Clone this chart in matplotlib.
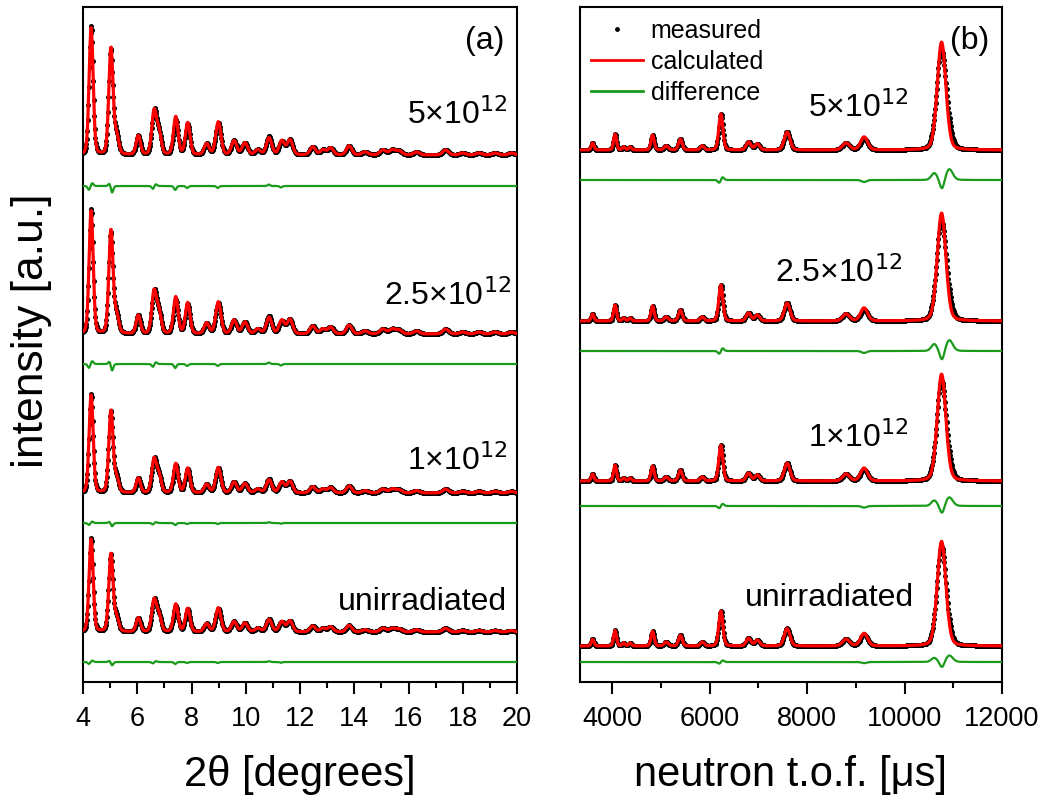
import numpy as np
import matplotlib
matplotlib.use("Agg")
import matplotlib.pyplot as plt
from matplotlib.lines import Line2D

plt.rcParams['font.family'] = ['Liberation Sans', 'DejaVu Sans']

# ---------------- data ----------------
samples = ["unirradiated", "1×10$^{12}$", "2.5×10$^{12}$", "5×10$^{12}$"]

# X-ray pattern (panel a): peak positions [deg], heights, widths
xrd_pos = [4.30, 5.03, 5.24, 6.04, 6.62, 6.80, 7.42, 7.86, 8.56, 8.99, 9.57, 9.97,
           10.45, 10.86, 11.33, 11.63, 12.47, 12.85, 13.13, 13.81, 14.40, 15.06,
           15.40, 15.65, 16.30, 17.37, 18.00, 18.60, 19.20, 19.80]
xrd_height = [127, 107, 18, 19, 43, 22, 38, 32, 11, 33, 14, 12,
              5, 17, 14, 15, 8, 5, 7, 9, 3, 5,
              5, 4, 3, 5, 2, 2, 2, 2]
xrd_sigma = [0.075, 0.078, 0.08, 0.08, 0.085, 0.085, 0.085, 0.085, 0.09, 0.095, 0.095, 0.1,
             0.1, 0.1, 0.1, 0.1, 0.1, 0.1, 0.1, 0.1, 0.11, 0.11,
             0.11, 0.11, 0.11, 0.11, 0.11, 0.11, 0.11, 0.11]
xrd_scale = [0.73, 0.77, 0.97, 1.0]          # unirr, 1e12, 2.5e12, 5e12
xrd_diff_pos = [4.22, 4.34, 4.98, 5.07, 6.58, 6.68, 7.40, 7.84, 8.97, 10.85, 11.30]
xrd_diff_amp = [-4, 3, 3, -7, -3, 2, -4, -2, -2, 1.5, -1.5]
xrd_diff_scale = [0.5, 0.5, 1.0, 1.0]

# neutron pattern (panel b): peak positions [µs], heights, widths
tof_pos = [3600, 4060, 4240, 4370, 4830, 5110, 5400, 5850, 6230, 6800, 6980,
           7590, 8800, 9170, 10760]
tof_height = [7, 16, 3, 3, 15, 4, 11, 4, 36, 8, 6, 18, 7, 13, 108]
tof_sigma = [28, 30, 28, 28, 33, 42, 38, 38, 42, 48, 48, 58, 72, 72, 88]
tof_scale = [0.97, 0.99, 1.0, 1.0]
tof_diff_pos = [6200, 6265, 9170, 10610, 10770, 10920]
tof_diff_amp = [-3, 3, -2, 7, -10, 11]
tof_diff_sigma = [30, 30, 50, 60, 45, 70]
tof_diff_scale = [0.6, 0.8, 1.0, 1.0]

# ---------------- layout constants (pixel-like units) ----------------
xrd_base = [50, 189, 348, 527]
xrd_diff_base = [20, 159, 318, 496]
tof_base = [36, 201, 361, 532]
tof_diff_base = [20, 176, 331, 502]


def peaks(x, pos, height, sigma):
    y = np.zeros(len(x), dtype=float)
    for p, h, s in zip(pos, height, sigma):
        g = np.exp(-0.5 * ((x - p) / s) ** 2)
        lor = 1.0 / (1.0 + ((x - p) / (1.2 * s)) ** 2)
        y += h * (0.8 * g + 0.2 * lor)
    return y


fig = plt.figure(figsize=(10.53, 8.02), dpi=100)
W, H = 1053, 802
ax1 = fig.add_axes([83 / W, 120 / H, 434 / W, 675 / H])
ax2 = fig.add_axes([580 / W, 120 / H, 422 / W, 675 / H])

red = '#ff0000'
green = '#1a9a1a'

# panel a
x_a = np.arange(4.0, 20.0001, 0.02)
calc_a = peaks(x_a, xrd_pos, xrd_height, xrd_sigma)
diff_a = peaks(x_a, xrd_diff_pos, xrd_diff_amp, [0.045] * len(xrd_diff_pos))
for i in range(4):
    c = calc_a * xrd_scale[i] + xrd_base[i]
    d = diff_a * xrd_diff_scale[i]
    ax1.plot(x_a, c + d, 'o', ms=3.6, color='black', mew=0, zorder=2)
    ax1.plot(x_a, c, '-', lw=2.3, color=red, zorder=3)
    ax1.plot(x_a, d + xrd_diff_base[i], '-', lw=1.6, color=green, zorder=3)

# panel b
x_b = np.arange(3340.0, 12000.0, 12.0)
calc_b = peaks(x_b, tof_pos, tof_height, tof_sigma)
diff_b = peaks(x_b, tof_diff_pos, tof_diff_amp, tof_diff_sigma)
for i in range(4):
    c = calc_b * tof_scale[i] + tof_base[i]
    d = diff_b * tof_diff_scale[i]
    ax2.plot(x_b, c + d, 'o', ms=3.6, color='black', mew=0, zorder=2)
    ax2.plot(x_b, c, '-', lw=2.3, color=red, zorder=3)
    ax2.plot(x_b, d + tof_diff_base[i], '-', lw=1.6, color=green, zorder=3)

ax1.set_xlim(4, 20)
ax2.set_xlim(3340, 12000)
for ax in (ax1, ax2):
    ax.set_ylim(0, 675)
    ax.set_yticks([])
    for sp in ax.spines.values():
        sp.set_linewidth(1.5)
    ax.tick_params(axis='x', which='major', direction='out', length=8.5, width=1.5,
                   labelsize=19.5, pad=9)
    ax.tick_params(axis='x', which='minor', direction='out', length=4.5, width=1.5)

ax1.set_xticks(np.arange(4, 21, 2))
ax1.set_xticks(np.arange(5, 20, 2), minor=True)
ax2.set_xticks(np.arange(4000, 12001, 2000))
ax2.set_xticks(np.arange(5000, 12000, 2000), minor=True)

ax1.set_xlabel('2θ [degrees]', fontsize=30, labelpad=16)
ax2.set_xlabel('neutron t.o.f. [μs]', fontsize=30, labelpad=16)
fig.text(32 / W, 1 - 331 / H, 'intensity [a.u.]', rotation=90, fontsize=32,
         ha='center', va='center')

# sample labels
lbl_a = [(13.4, 72), (15.94, 212), (15.1, 377), (15.94, 558)]
lbl_b = [(6724, 76), (8016, 235), (7340, 400), (8016, 565)]
for i, s in enumerate(samples):
    ax1.text(lbl_a[i][0], lbl_a[i][1], s, fontsize=23, ha='left', va='baseline')
    ax2.text(lbl_b[i][0], lbl_b[i][1], s, fontsize=23, ha='left', va='baseline')

ax1.text(0.97, 0.95, '(a)', transform=ax1.transAxes, fontsize=23, ha='right', va='center')
ax2.text(0.97, 0.95, '(b)', transform=ax2.transAxes, fontsize=23, ha='right', va='center')

handles = [Line2D([], [], ls='none', marker='o', ms=3.5, color='black', mew=0),
           Line2D([], [], color=red, lw=2),
           Line2D([], [], color=green, lw=2)]
ax2.legend(handles, ['measured', 'calculated', 'difference'], loc='upper left',
           bbox_to_anchor=(-0.01, 1.005), frameon=False, fontsize=18,
           handlelength=2.1, handletextpad=0.3, labelspacing=0.28, borderaxespad=0.2)

fig.savefig('out.png', dpi=100)
